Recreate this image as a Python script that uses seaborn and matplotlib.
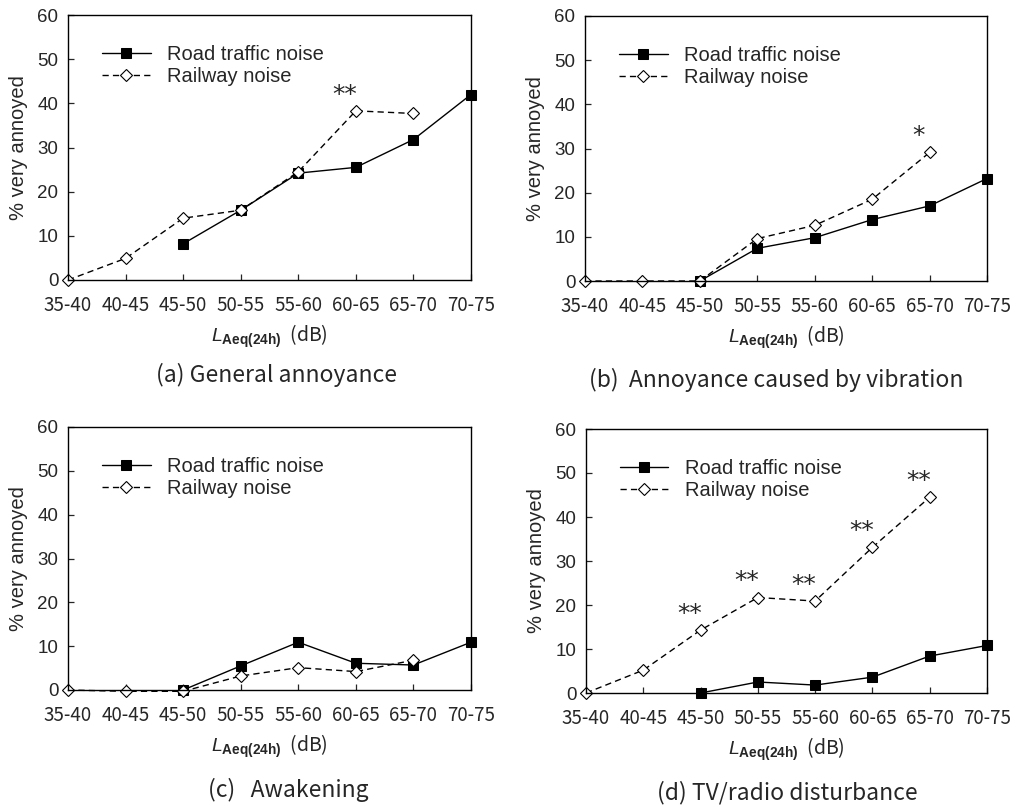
import numpy as np
import matplotlib
matplotlib.use("Agg")
import matplotlib.pyplot as plt
import seaborn as sns

sns.set_style("ticks")
plt.rcParams['font.family'] = ['Liberation Sans', 'DejaVu Sans']
plt.rcParams['mathtext.fontset'] = 'custom'
plt.rcParams['mathtext.it'] = 'Liberation Sans:italic'
plt.rcParams['mathtext.bf'] = 'Liberation Sans:bold'
plt.rcParams['mathtext.rm'] = 'Liberation Sans'

# ---------------------------------------------------------------------------
# Data
# ---------------------------------------------------------------------------
categories = ['35-40', '40-45', '45-50', '50-55', '55-60', '60-65', '65-70', '70-75']
nan = np.nan

road_a = [nan, nan, 8.2, 15.8, 24.2, 25.5, 31.8, 42.0]
rail_a = [0.0, 4.9, 14.0, 15.8, 24.5, 38.3, 37.7, nan]

road_b = [nan, nan, 0.0, 7.4, 9.8, 13.9, 17.0, 23.2]
rail_b = [0.0, 0.0, 0.0, 9.6, 12.6, 18.5, 29.1, nan]

road_c = [nan, nan, 0.0, 5.5, 10.9, 6.1, 5.7, 10.9]
rail_c = [0.0, -0.3, -0.3, 3.2, 5.1, 4.2, 6.8, nan]

road_d = [nan, nan, 0.0, 2.5, 1.8, 3.6, 8.4, 10.8]
rail_d = [0.0, 5.2, 14.3, 21.7, 20.9, 33.1, 44.5, nan]

# significance marks: (category index, label) on the railway curve
stars_a = [(5, '**')]
stars_b = [(6, '*')]
stars_c = []
stars_d = [(2, '**'), (3, '**'), (4, '**'), (5, '**'), (6, '**')]

captions = ['(a) General annoyance',
            '(b)  Annoyance caused by vibration',
            '(c)   Awakening',
            '(d) TV/radio disturbance']

series_labels = ['Road traffic noise', 'Railway noise']
ylabel = '% very annoyed'
xlabel = r'$\mathit{L}_{\mathbf{Aeq(24h)}}$  (dB)'
yticks = [0, 10, 20, 30, 40, 50, 60]

panels = [(road_a, rail_a, stars_a), (road_b, rail_b, stars_b),
          (road_c, rail_c, stars_c), (road_d, rail_d, stars_d)]

# ---------------------------------------------------------------------------
# Layout (pixel boxes of the four axes in a 1019x807 figure)
# ---------------------------------------------------------------------------
W, H = 1019, 807
boxes = [(68, 15, 471, 280), (585, 16, 987, 281),
         (68, 427, 471, 690), (586, 429, 987, 693)]
caption_pos = [(277, 375), (776, 380), (288, 790), (787, 793)]

fig = plt.figure(figsize=(W / 100, H / 100), dpi=100)
cjk = ['Noto Sans CJK JP', 'DejaVu Sans']
pos = np.arange(len(categories))

for i, (road, rail, stars) in enumerate(panels):
    x0, y0, x1, y1 = boxes[i]
    ax = fig.add_axes([x0 / W, 1 - y1 / H, (x1 - x0) / W, (y1 - y0) / H])

    sns.lineplot(x=pos, y=road, ax=ax, color='black', linewidth=1.0,
                 marker='s', markersize=7.2, markerfacecolor='black',
                 markeredgecolor='black', label=series_labels[0], clip_on=False)
    sns.lineplot(x=pos, y=rail, ax=ax, color='black', linewidth=1.0,
                 linestyle=(0, (4.5, 3)), marker='D', markersize=6,
                 markerfacecolor='white', markeredgecolor='black',
                 markeredgewidth=0.8, label=series_labels[1], clip_on=False)

    for idx, lab in stars:
        ax.annotate(lab, (pos[idx], rail[idx]), xytext=(-8, 3),
                    textcoords='offset points', ha='center', va='bottom',
                    fontsize=18, family=['DejaVu Sans'])

    ax.set_xlim(0, len(categories) - 1)
    ax.set_ylim(0, 60)
    ax.set_xticks(pos)
    ax.set_xticklabels(categories, family=cjk, fontsize=13.5)
    ax.set_yticks(yticks)
    ax.set_yticklabels([str(v) for v in yticks], fontsize=13.5)
    ax.tick_params(axis='x', direction='in', length=4, width=0.9, pad=11)
    ax.tick_params(axis='y', direction='in', length=4, width=0.9, pad=7)
    ax.set_ylabel(ylabel, fontsize=14.5, labelpad=7)
    ax.set_xlabel(xlabel, fontsize=14, family=cjk, labelpad=5)
    for sp in ax.spines.values():
        sp.set_linewidth(1.0)
        sp.set_color('black')

    ax.legend(loc='upper left', bbox_to_anchor=(0.085, 0.885), frameon=False,
              fontsize=14.5, handlelength=2.4, handletextpad=0.8,
              labelspacing=0.15, borderpad=0, borderaxespad=0)

    cx, cy = caption_pos[i]
    fig.text(cx / W, 1 - cy / H, captions[i], ha='center', va='center',
             fontsize=16.5, family=cjk)

plt.savefig('out.png', dpi=100)
plt.close()
